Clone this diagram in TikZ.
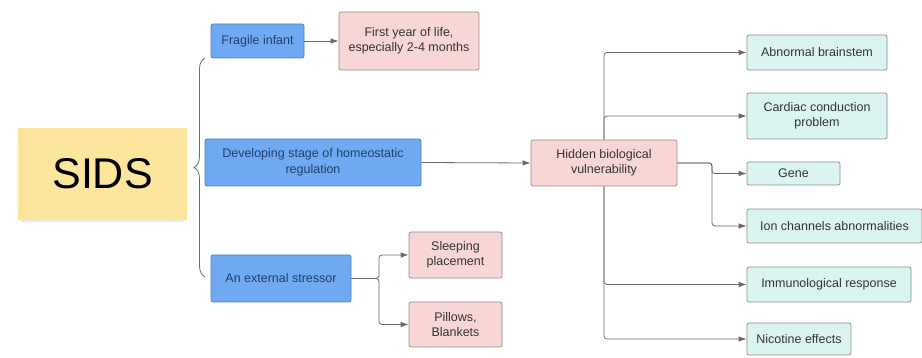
\documentclass[tikz,border=0pt]{standalone}
\usepackage{fontspec}
\setmainfont{Liberation Sans}
\usetikzlibrary{arrows.meta,decorations.pathreplacing,shadows}

\definecolor{sidsyellow}{HTML}{FCE59C}
\definecolor{causeblue}{HTML}{6EA9F2}
\definecolor{causeborder}{HTML}{4F7FBA}
\definecolor{causetext}{HTML}{22406A}
\definecolor{riskpink}{HTML}{F9D6D6}
\definecolor{findcyan}{HTML}{DAF5F1}
\definecolor{linkgray}{HTML}{6A6A6A}

\tikzset{
  box/.style={draw=black!45, rounded corners=2pt, align=center, inner sep=2pt,
    font=\fontsize{12.5}{15.5}\selectfont, text=black!80, line width=0.7pt},
  sidsbox/.style={fill=sidsyellow, inner sep=0pt, font=\fontsize{43}{50}\selectfont,
    drop shadow={shadow xshift=0pt, shadow yshift=-3pt, opacity=0.18, shadow scale=0.97}},
  cause/.style={box, fill=causeblue, draw=causeborder, text=causetext},
  risk/.style={box, fill=riskpink},
  finding/.style={box, fill=findcyan},
  link/.style={draw=linkgray, line width=0.8pt, rounded corners=3pt, -{Latex[length=8pt,width=5.5pt]}},
}

\begin{document}
\begin{tikzpicture}[x=1pt, y=-1pt]
  \useasboundingbox (0,0) rectangle (922,358);

  %%%%% left side %%%%%
  \node[sidsbox, minimum width=169pt, minimum height=92pt] (sids) at (102.5,174) {SIDS};
  \draw[linkgray, line width=0.8pt, decorate, decoration={brace, amplitude=11pt}] (205,277) -- (205,58);

  \node[cause, minimum width=93pt, minimum height=34pt] (fragile) at (257.5,41) {Fragile infant};
  \node[cause, minimum width=216pt, minimum height=47pt] (develop) at (313,162.5) {Developing stage of homeostatic\\regulation};
  \node[cause, minimum width=140pt, minimum height=47pt] (stress) at (281,278.5) {An external stressor};

  \node[risk, minimum width=140pt, minimum height=58pt] (firstyear) at (409,41) {First year of life,\\especially 2-4 months};
  \node[risk, minimum width=93pt, minimum height=46pt] (sleep) at (455.5,255) {Sleeping\\placement};
  \node[risk, minimum width=93pt, minimum height=45pt] (pillow) at (455.5,324.5) {Pillows,\\Blankets};
  \node[risk, minimum width=146pt, minimum height=46pt] (hidden) at (604,163) {Hidden biological\\vulnerability};

  \draw[link] (fragile.east) -- (firstyear.west);
  \draw[link] (develop.east) -- (hidden.west);
  \coordinate (fork) at (379,278.5);
  \draw[link] (stress.east) -- (fork) |- (sleep.west);
  \draw[link] (stress.east) -- (fork) |- (pillow.west);

  %%%%% right side %%%%%
  \node[finding, minimum width=140pt, minimum height=35pt] (brain) at (817,52.5) {Abnormal brainstem};
  \node[finding, minimum width=140pt, minimum height=46pt] (cardiac) at (817,116) {Cardiac conduction\\problem};
  \node[finding, minimum width=93pt, minimum height=23pt] (gene) at (793.5,173.5) {Gene};
  \node[finding, minimum width=175pt, minimum height=34pt] (ion) at (834.5,226) {Ion channels abnormalities};
  \node[finding, minimum width=164pt, minimum height=35pt] (immuno) at (829,284.5) {Immunological response};
  \node[finding, minimum width=104pt, minimum height=32pt] (nicotine) at (799,339) {Nicotine effects};

  \draw[link] (hidden.north) |- (brain.west);
  \draw[link] (hidden.north) |- (cardiac.west);
  \draw[link] (hidden.south) |- (immuno.west);
  \draw[link] (hidden.south) |- (nicotine.west);
  \coordinate (genefork) at (712,163);
  \draw[link] (hidden.east) -- (genefork) |- (gene.west);
  \draw[link] (hidden.east) -- (genefork) |- (ion.west);
\end{tikzpicture}
\end{document}
